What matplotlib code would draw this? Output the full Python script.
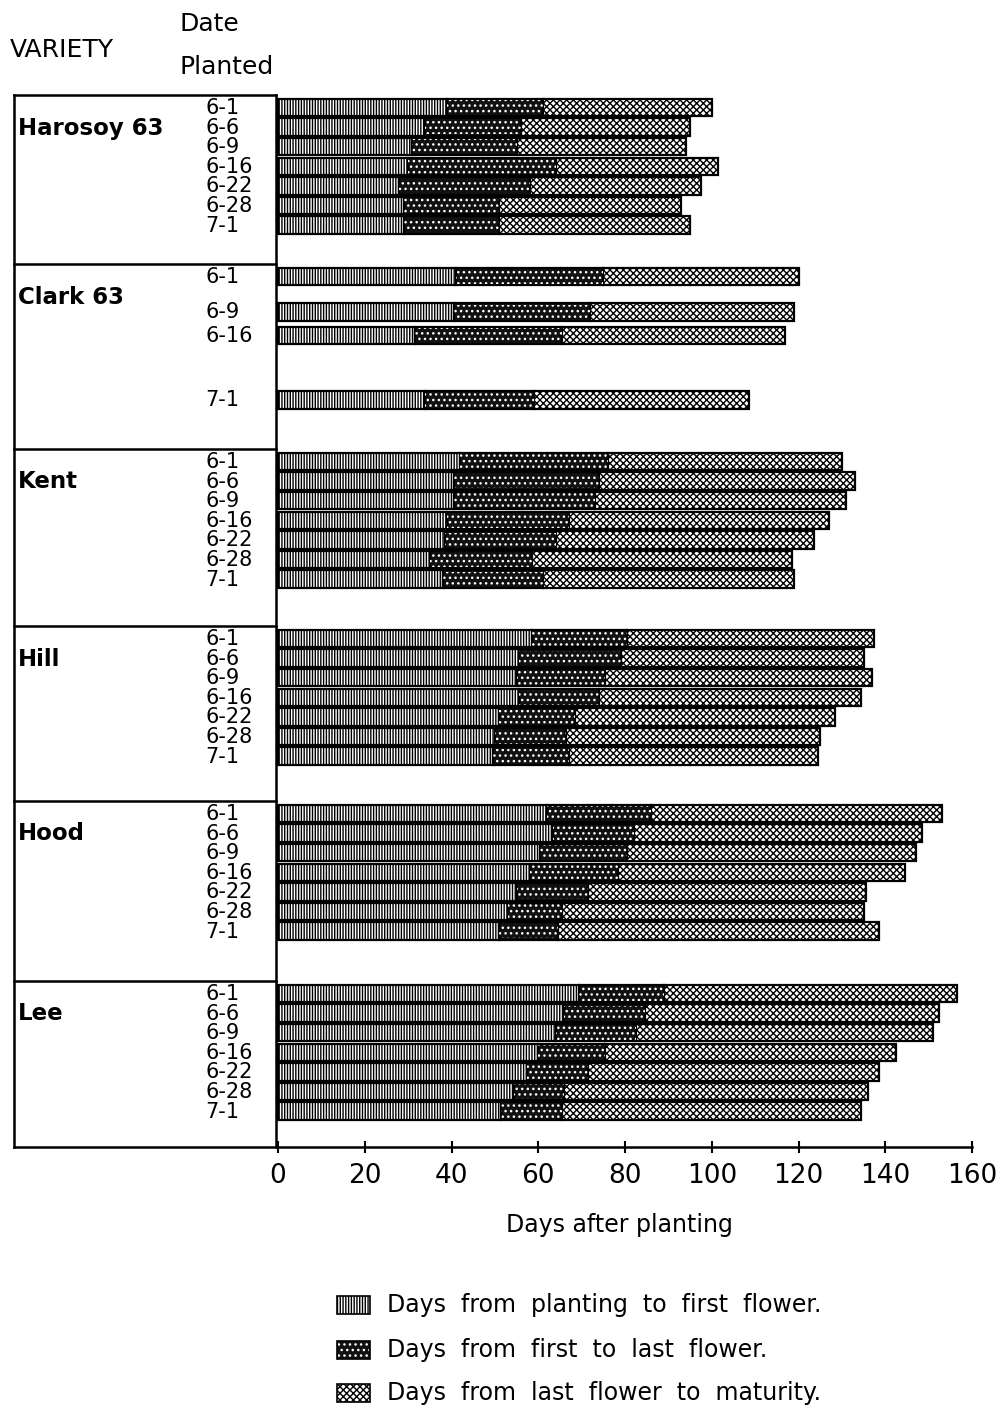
import matplotlib
matplotlib.use("Agg")
import matplotlib.pyplot as plt
from matplotlib.patches import Rectangle

# ---------------- data ----------------
varieties = ["Harosoy 63", "Clark 63", "Kent", "Hill", "Hood", "Lee"]

harosoy_dates = ["6-1", "6-6", "6-9", "6-16", "6-22", "6-28", "7-1"]
harosoy_first = [39, 34, 31, 30, 28, 29, 29]
harosoy_last = [61, 56, 55, 64, 58, 51, 51]
harosoy_mature = [100, 95, 94, 101.5, 97.5, 93, 95]

clark_dates = ["6-1", "6-9", "6-16", "7-1"]
clark_first = [41, 40.5, 31.5, 34]
clark_last = [75, 72, 65.5, 59]
clark_mature = [120, 119, 117, 108.5]

kent_dates = ["6-1", "6-6", "6-9", "6-16", "6-22", "6-28", "7-1"]
kent_first = [42, 40.5, 40.5, 39, 38.5, 35, 38]
kent_last = [76, 74, 73, 67, 64, 58.5, 61]
kent_mature = [130, 133, 131, 127, 123.5, 118.5, 119]

hill_dates = ["6-1", "6-6", "6-9", "6-16", "6-22", "6-28", "7-1"]
hill_first = [58.5, 55.5, 55, 55.5, 51, 50, 49.5]
hill_last = [80.5, 79, 75.5, 74, 68.5, 66.5, 67]
hill_mature = [137.5, 135, 137, 134.5, 128.5, 125, 124.5]

hood_dates = ["6-1", "6-6", "6-9", "6-16", "6-22", "6-28", "7-1"]
hood_first = [62, 63.5, 60.5, 58, 55, 53, 51]
hood_last = [86, 82, 80.5, 78.5, 71.5, 65.5, 64.5]
hood_mature = [153, 148.5, 147, 144.5, 135.5, 135, 138.5]

lee_dates = ["6-1", "6-6", "6-9", "6-16", "6-22", "6-28", "7-1"]
lee_first = [69.5, 66, 64, 60, 57.5, 54.5, 51.5]
lee_last = [89, 84.5, 82.5, 75.5, 71.5, 66, 65.5]
lee_mature = [156.5, 152.5, 151, 142.5, 138.5, 136, 134.5]

x_ticks = [0, 20, 40, 60, 80, 100, 120, 140, 160]
x_label = "Days after planting"
legend_labels = ["Days  from  planting  to  first  flower.",
                 "Days  from  first  to  last  flower.",
                 "Days  from  last  flower  to  maturity."]

all_dates = [harosoy_dates, clark_dates, kent_dates, hill_dates, hood_dates, lee_dates]
all_first = [harosoy_first, clark_first, kent_first, hill_first, hood_first, lee_first]
all_last = [harosoy_last, clark_last, kent_last, hill_last, hood_last, lee_last]
all_mature = [harosoy_mature, clark_mature, kent_mature, hill_mature, hood_mature, lee_mature]

# ---------------- layout (pixel-based) ----------------
W, H = 1005, 1410
plt.rcParams['font.family'] = ['DejaVu Sans']
plt.rcParams['hatch.linewidth'] = 1.0

fig = plt.figure(figsize=(W / 100, H / 100), dpi=100)

ax_left_px, ax_right_px = 14, 972
ax_top_px, ax_bot_px = 95, 1147
zero_px = 278
days_per_px = 160 / (ax_right_px - zero_px)
xmin = -(zero_px - ax_left_px) * days_per_px

ax = fig.add_axes([ax_left_px / W, 1 - ax_bot_px / H,
                   (ax_right_px - ax_left_px) / W, (ax_bot_px - ax_top_px) / H])
ax.set_xlim(xmin, 160)
ax.set_ylim(ax_bot_px, ax_top_px)

panel_tops = [95, 264, 449, 626, 801, 981]
clark_slots = [0, 1.8, 3.0, 6.3]
row_offset, row_step, bar_h = 12.5, 19.6, 17.5

DARK = '#111111'
for vi, name in enumerate(varieties):
    top = panel_tops[vi]
    dates = all_dates[vi]
    slots = clark_slots if name.startswith("Clark") else list(range(len(dates)))
    ys = [top + row_offset + s * row_step for s in slots]
    f, l, m = all_first[vi], all_last[vi], all_mature[vi]
    seg2 = [b - a for a, b in zip(f, l)]
    seg3 = [b - a for a, b in zip(l, m)]
    ax.barh(ys, f, left=0, height=bar_h, color='white', edgecolor='black',
            hatch='||||||', linewidth=1.6, zorder=2)
    ax.barh(ys, seg2, left=f, height=bar_h, color=DARK, edgecolor='black',
            linewidth=1.6, zorder=2)
    ax.barh(ys, seg2, left=f, height=bar_h - 3, color='none', edgecolor='white',
            hatch='...', linewidth=0, zorder=3)
    ax.barh(ys, seg3, left=l, height=bar_h, color='white', edgecolor='black',
            hatch='xxxxx', linewidth=1.6, zorder=2)
    # labels
    ax.text((18 - zero_px) * days_per_px, top + 33, name, fontsize=16.5,
            fontweight='bold', ha='left', va='center')
    for y, d in zip(ys, dates):
        ax.text((205 - zero_px) * days_per_px, y + 0.5, d, fontsize=15,
                ha='left', va='center')

# table frame
sep_x = (276 - zero_px) * days_per_px
lw_tab = 1.8
ax.plot([xmin, xmin], [ax_top_px, ax_bot_px], color='black', lw=lw_tab, clip_on=False, zorder=4)
ax.plot([sep_x, sep_x], [ax_top_px, ax_bot_px], color='black', lw=lw_tab, clip_on=False, zorder=4)
for t in panel_tops:
    ax.plot([xmin, sep_x], [t, t], color='black', lw=lw_tab, clip_on=False, zorder=4)

# axes styling
for s in ['top', 'right', 'left']:
    ax.spines[s].set_visible(False)
ax.spines['bottom'].set_linewidth(lw_tab)
ax.set_yticks([])
ax.set_xticks(x_ticks)
ax.set_xticklabels([str(t) for t in x_ticks], fontsize=19)
ax.tick_params(axis='x', direction='inout', length=9, width=1.5, pad=7)

# overlay axes for outer text & legend
ov = fig.add_axes([0, 0, 1, 1], facecolor='none')
ov.set_xlim(0, W)
ov.set_ylim(H, 0)
ov.axis('off')

ov.text(10, 50, "VARIETY", fontsize=18, ha='left', va='center')
ov.text(180, 24, "Date", fontsize=18, ha='left', va='center')
ov.text(180, 67, "Planted", fontsize=18, ha='left', va='center')
ov.text(619, 1225, x_label, fontsize=17, ha='center', va='center')

leg_y = [1305, 1350, 1393]
styles = [dict(facecolor='white', hatch='||||||'),
          dict(facecolor=DARK, hatch=None),
          dict(facecolor='white', hatch='xxxxx')]
for y, lab, st in zip(leg_y, legend_labels, styles):
    ov.add_patch(Rectangle((337, y - 9), 33, 18, facecolor=st['facecolor'],
                           edgecolor='black', hatch=st['hatch'], linewidth=1.2))
    if st['hatch'] is None:
        ov.add_patch(Rectangle((338, y - 7), 31, 14, facecolor='none',
                               edgecolor='white', hatch='...', linewidth=0))
    ov.text(387, y, lab, fontsize=17, ha='left', va='center')

fig.savefig("out.png", dpi=100)
